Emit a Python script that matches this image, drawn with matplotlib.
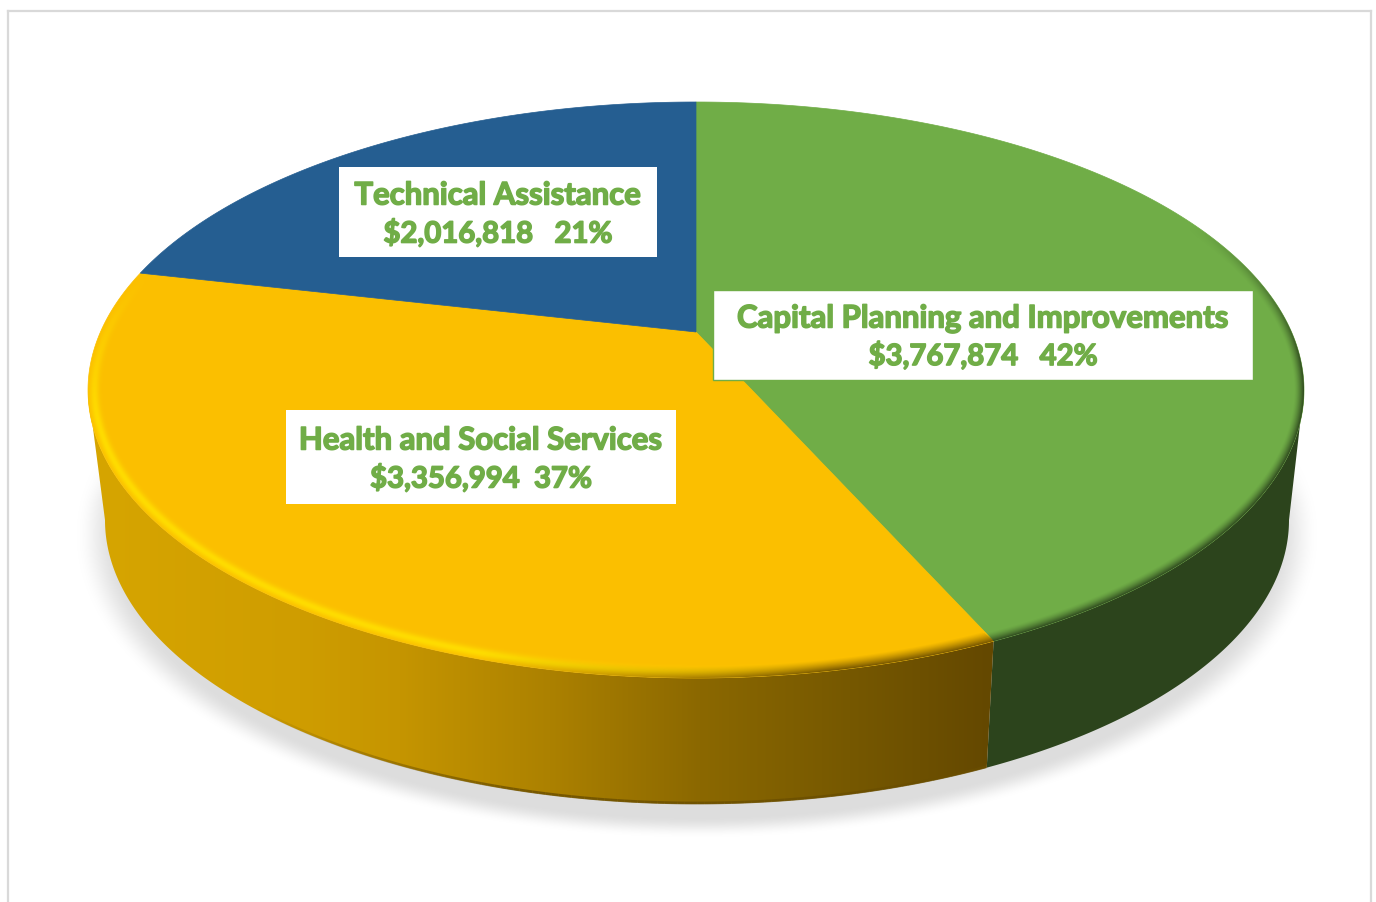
import numpy as np
import matplotlib
matplotlib.use('Agg')
import matplotlib.pyplot as plt
from matplotlib.patches import Polygon, Rectangle
import matplotlib.patheffects as pe

# Chart data
categories = ['Capital Planning and Improvements', 'Health and Social Services', 'Technical Assistance']
values = [3767874, 3356994, 2016818]
value_labels = ['$3,767,874   42%', '$3,356,994  37%', '$2,016,818   21%']
colors = ['#70AD47', '#FBBF00', '#255E91']

# Pie geometry in pixels (the 3-D view is faked with two ellipses)
W, H = 1376, 902
cx, cy, rx, ry = 696, 390, 608, 288      # top face
bx, by, brx, bry = 697, 520, 592, 284    # bottom edge of the wall
hub = (696, 332)                         # where the slices meet


def view_angle(t):
    # perspective moves the slice edges a bit on the ellipse
    r = np.radians(t)
    return t - 10.4 * np.sin(r) - 8.7 * np.sin(2 * r)


def arc(x0, y0, a, b, p0, p1, n=200):
    p = np.radians(np.linspace(p0, p1, n))
    return np.column_stack([x0 + a * np.sin(p), y0 - b * np.cos(p)])


cum = np.concatenate([[0], np.cumsum(values)]) / np.sum(values) * 360
edges = view_angle(cum)

fig = plt.figure(figsize=(W / 100, H / 100), dpi=100)
ax = fig.add_axes([0, 0, 1, 1])
ext = [0, W, H, 0]
yy, xx = np.mgrid[0:H, 0:W] + 0.5

# soft shadow under the pie
r_s = np.sqrt(((xx - 697) / 622) ** 2 + ((yy - 535) / 303) ** 2)
sh = np.clip((1.0 - r_s) / 0.07, 0, 1)
sh = sh * sh * (3 - 2 * sh) * np.clip((yy - 440) / 60, 0, 1)
img = np.zeros((H, W, 4))
img[..., :3] = 0.87
img[..., 3] = sh
ax.imshow(img, extent=ext, interpolation='bilinear', zorder=1)

# side wall, yellow part has a gradient left to right
p_split = edges[1]
wall_y = np.vstack([arc(cx, cy, rx, ry, p_split, 270), arc(bx, by, brx, bry, 270, p_split)])
wall_g = np.vstack([arc(cx, cy, rx, ry, 90, p_split), arc(bx, by, brx, bry, p_split, 90)])
ax.add_patch(Polygon(wall_g, closed=True, fc='#2C441C', ec='none', zorder=2))

grad = np.zeros((2, W, 3))
for i in range(3):
    c = np.interp(np.arange(W), [100, 300, 400, 550, 700, 850, 990],
                  [[214, 165, 0][i], [207, 157, 0][i], [197, 149, 0][i], [172, 129, 0][i],
                   [139, 104, 0][i], [118, 88, 0][i], [100, 72, 0][i]])
    grad[:, :, i] = c / 255
patch_y = Polygon(wall_y, closed=True, fc='none', ec='none', zorder=2)
ax.add_patch(patch_y)
im = ax.imshow(grad, extent=ext, aspect='auto', interpolation='bilinear', zorder=2)
im.set_clip_path(patch_y)

# dark line at the foot of the yellow wall, fades out to the left
foot = arc(bx, by, brx - 1, bry - 1, p_split, 228, 120)
for k in range(len(foot) - 1):
    a = 0.8 * min(1, (len(foot) - k) / 50)
    ax.plot(foot[k:k + 2, 0], foot[k:k + 2, 1], color='#6A4E00', lw=2, alpha=a,
            solid_capstyle='butt', zorder=2.5)

# top face slices
for i, col in enumerate(colors):
    pts = np.vstack([[hub], arc(cx, cy, rx, ry, edges[i], edges[i + 1])])
    ax.add_patch(Polygon(pts, closed=True, fc=col, ec=col, lw=0.5, zorder=3))

# bevel along the rim of the top face
dx = (xx - cx) / rx
dy = (yy - cy) / ry
r = np.sqrt(dx ** 2 + dy ** 2)
g = np.sqrt((dx / rx) ** 2 + (dy / ry) ** 2) / np.maximum(r, 1e-6)
d = (1 - r) / np.maximum(g, 1e-9)
phi = np.degrees(np.arctan2(dx, -dy)) % 360

on_yellow = (phi > p_split) & (phi < edges[2])
fade_l = np.clip((edges[2] - phi) / 30, 0, 1)
fade_r = np.clip((phi - 55) / 30, 0, 1)
mix = np.clip((xx - 480) / 350, 0, 1)   # highlight on the left turning to shadow on the right

bevel = np.zeros((H, W, 4))
hi = np.exp(-((d - 6.5) / 4.5) ** 2)
lo = np.clip(1 - d / 12, 0, 1) ** 1.3
hi_a = hi * (1 - mix) * 0.95
lo_a = lo * mix * 0.9
tot = np.maximum(hi_a + lo_a, 1e-6)
for i, (h, l) in enumerate(zip([1.0, 0.87, 0.0], [0.40, 0.29, 0.0])):
    bevel[..., i] = (h * hi_a + l * lo_a) / tot
bevel[..., 3] = np.clip(hi_a + lo_a, 0, 1) * fade_l * on_yellow

on_green = (phi <= p_split) & (phi < 180)
lo_g = np.clip(1 - d / 10, 0, 1) ** 1.5 * fade_r
bevel[..., 0][on_green] = 0.17
bevel[..., 1][on_green] = 0.27
bevel[..., 2][on_green] = 0.11
bevel[..., 3][on_green] = (lo_g * 0.95)[on_green]
bevel[..., 3][d < -1] = 0

top = Polygon(arc(cx, cy, rx, ry, 0, 360, 500), closed=True, fc='none', ec='none', zorder=4)
ax.add_patch(top)
b_im = ax.imshow(bevel, extent=ext, interpolation='bilinear', zorder=4)
b_im.set_clip_path(top)

# label boxes
boxes = [(713, 290, 540, 90), (286, 410, 390, 94), (339, 167, 318, 90)]
text_pos = [(983, 318.5, 356), (481, 440.5, 478.5), (498, 195.5, 233.5)]
for i in range(3):
    x, y, w, h = boxes[i]
    ax.add_patch(Rectangle((x, y), w, h, fc='white', ec='#70AD47' if i == 0 else 'none', lw=1, zorder=5))
    tx, y1, y2 = text_pos[i]
    for s, ty, fs in ((categories[i], y1, 22.4), (value_labels[i], y2, 21.1)):
        ax.text(tx, ty, s, ha='center', va='center', fontsize=fs, fontweight='bold', family='Lato',
                color='#70AD47', zorder=6,
                path_effects=[pe.withStroke(linewidth=1.1, foreground='#70AD47')])

# chart frame, bottom is cut off in the picture
ax.plot([8, 8], [11, H], color='#D9D9D9', lw=1.6, zorder=0)
ax.plot([1371, 1371], [11, H], color='#D9D9D9', lw=1.6, zorder=0)
ax.plot([8, 1371], [11, 11], color='#D9D9D9', lw=1.6, zorder=0)

ax.set_xlim(0, W)
ax.set_ylim(H, 0)
ax.axis('off')
fig.savefig('out.png', dpi=100)
plt.close()
